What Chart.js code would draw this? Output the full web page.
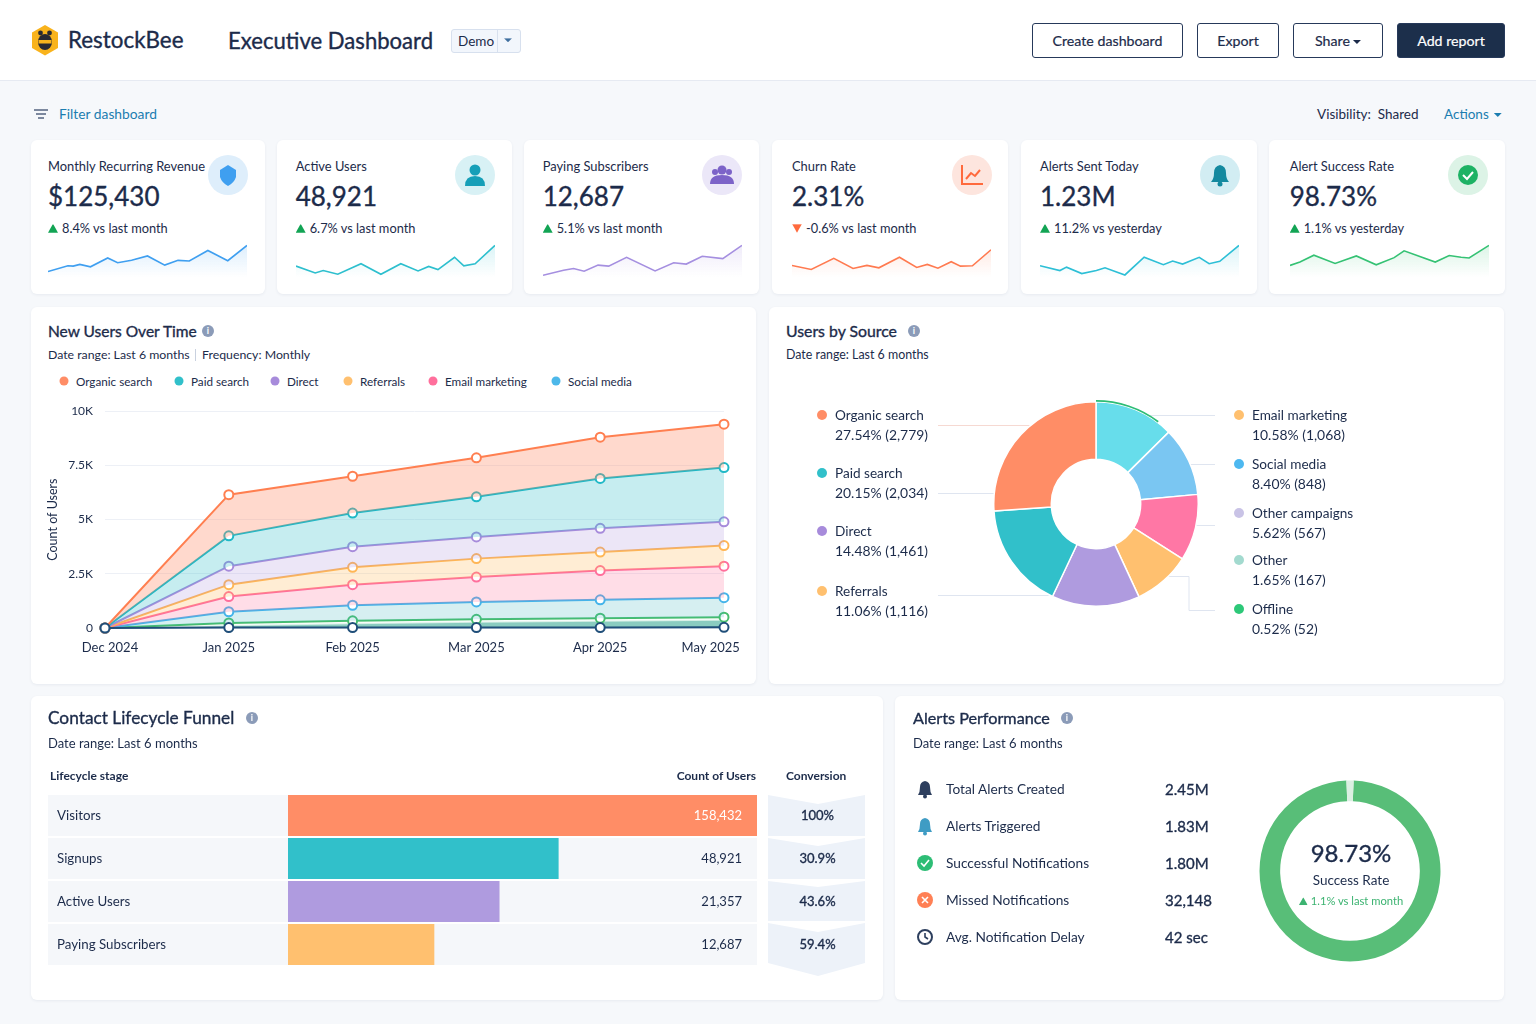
<!DOCTYPE html>
<html>
<head>
<meta charset="utf-8">
<title>Executive Dashboard</title>
<script src="https://cdn.jsdelivr.net/npm/chart.js@4"></script>
<style>
    html, body { margin: 0; padding: 0; }
    body { position: relative; width: 1536px; height: 1024px; overflow: hidden; background: #f6f8fb; font-family: Lato, "Noto Sans", sans-serif; color: #1c2b4a; }
    .t { position: absolute; white-space: nowrap; transform: translateY(-50%); line-height: 1.2; }
    .r { transform: translate(-100%, -50%); }
    .c { transform: translate(-50%, -50%); }
    .m { -webkit-text-stroke: 0.35px currentColor; }
    .box { position: absolute; background: #fff; border-radius: 6px; box-shadow: 0 1px 3px rgba(40, 60, 100, 0.07); }
    .btn { position: absolute; box-sizing: border-box; top: 23px; height: 35px; border: 1px solid #26395a; border-radius: 3px; background: #fff; font-size: 14.2px; -webkit-text-stroke: 0.2px currentColor; line-height: 33px; text-align: center; }
    canvas { position: absolute; display: block; }
    svg { position: absolute; overflow: visible; }
    .info { position: absolute; width: 12px; height: 12px; border-radius: 50%; background: #8b9bb8; color: #fff; font-size: 9px; font-weight: 700; line-height: 12px; text-align: center; transform: translateY(-50%); }
    .dot { position: absolute; border-radius: 50%; transform: translate(-50%, -50%); }
    .up, .down, .caret { display: inline-block; }
    .up { width: 10px; height: 9px; clip-path: polygon(50% 0, 100% 100%, 0 100%); background: #12a454; margin-right: 4px; }
    .down { width: 10px; height: 9px; clip-path: polygon(0 0, 100% 0, 50% 100%); background: #ff6a3d; margin-right: 4px; }
    .caret { width: 8px; height: 4px; clip-path: polygon(0 0, 100% 0, 50% 100%); background: currentColor; vertical-align: 2px; margin-left: 3px; }
</style>
</head>
<body>
<div style="position:absolute;left:0;top:0;width:1536px;height:80px;background:#fff;border-bottom:1px solid #e6eaf2"></div>
<svg style="left:31px;top:25px" width="28" height="31" viewBox="0 0 28 31">
    <polygon points="14,0 27,7.5 27,23 14,30.5 1,23 1,7.5" fill="#f9b31c"/>
    <circle cx="9.5" cy="8" r="2.4" fill="#2a2a33"/><circle cx="18.5" cy="8" r="2.4" fill="#2a2a33"/>
    <ellipse cx="14" cy="17" rx="7" ry="8" fill="#2a2a33"/>
    <rect x="7.5" y="15" width="13" height="3.5" fill="#f9b31c"/>
</svg>
<div class="t m" style="left:68px;top:40px;font-size:22.4px">RestockBee</div>
<div class="t m" style="left:228px;top:41px;font-size:22.1px">Executive Dashboard</div>
<div style="position:absolute;box-sizing:border-box;left:451px;top:29px;width:70px;height:24px;background:#f2f6fc;border:1px solid #d7e0ee;border-radius:3px"></div>
<div style="position:absolute;left:497px;top:29px;width:1px;height:24px;background:#d7e0ee"></div>
<div class="t" style="left:458px;top:41px;font-size:13.5px">Demo</div>
<div class="t c" style="left:508px;top:40px;font-size:8px;color:#3f6f9f"><span class="caret" style="margin:0;vertical-align:middle"></span></div>

<div class="btn" style="left:1032px;width:151px">Create dashboard</div>
<div class="btn" style="left:1197px;width:82px">Export</div>
<div class="btn" style="left:1293px;width:90px">Share<span class="caret"></span></div>
<div class="btn" style="left:1397px;width:108px;background:#1c2f4b;color:#fff">Add report</div>

<svg style="left:34px;top:108px" width="14" height="13" viewBox="0 0 14 13" stroke="#4a5a78" stroke-width="1.4">
    <line x1="0" y1="2" x2="14" y2="2"/><line x1="2" y1="6" x2="12" y2="6"/><line x1="4" y1="10" x2="10" y2="10"/>
</svg>
<div class="t" style="left:59px;top:114px;font-size:13.8px;color:#1b7db0">Filter dashboard</div>
<div class="t" style="left:1317px;top:114px;font-size:13.5px">Visibility:&nbsp; Shared</div>
<div class="t" style="left:1444px;top:114px;font-size:13.5px;color:#1b7db0">Actions<span class="caret" style="margin-left:5px"></span></div>

<div id="cards"></div>

<div class="box" style="left:31px;top:307px;width:725px;height:377px"></div>
<div class="box" style="left:769px;top:307px;width:735px;height:377px"></div>
<div class="box" style="left:31px;top:696px;width:852px;height:304px"></div>
<div class="box" style="left:895px;top:696px;width:609px;height:304px"></div>

<div class="t m" style="left:48px;top:331px;font-size:15.5px">New Users Over Time</div>
<div class="info" style="left:202px;top:331px">i</div>
<div class="t" style="left:48px;top:355px;font-size:12.3px">Date range: Last 6 months</div>
<div style="position:absolute;left:195px;top:349px;width:1px;height:12px;background:#c9d1df"></div>
<div class="t" style="left:202px;top:355px;font-size:12.3px">Frequency: Monthly</div>
<div id="trendLegend"></div>
<canvas id="trendChart" width="743" height="273" style="left:31px;top:392px;width:743px;height:273px"></canvas>

<div class="t m" style="left:786px;top:331px;font-size:15.8px">Users by Source</div>
<div class="info" style="left:908px;top:331px">i</div>
<div class="t" style="left:786px;top:355px;font-size:12.4px">Date range: Last 6 months</div>
<svg style="left:0;top:0" width="1536" height="1024" fill="none" stroke="#dfe5f0" stroke-width="1">
    <path d="M938 425.5H1031" stroke="#f6d9d2"/>
    <path d="M938 493.5H996"/>
    <path d="M938 595.5H1052"/>
    <path d="M1150 415.5H1215"/>
    <path d="M1188 464.5H1215"/>
    <path d="M1195 525.5H1215"/>
    <path d="M1165 576.5H1189V610.5H1215"/>
</svg>
<div id="sourceLegend"></div>
<canvas id="sourceChart" width="208" height="208" style="left:991.7px;top:400px;width:208px;height:208px"></canvas>

<div class="t m" style="left:48px;top:718px;font-size:17.3px">Contact Lifecycle Funnel</div>
<div class="info" style="left:246px;top:718px">i</div>
<div class="t" style="left:48px;top:743.5px;font-size:13px">Date range: Last 6 months</div>
<div class="t" style="left:50px;top:775.5px;font-size:12px;font-weight:700">Lifecycle stage</div>
<div class="t r" style="left:756px;top:775.5px;font-size:12px;font-weight:700">Count of Users</div>
<div class="t" style="left:786px;top:775.5px;font-size:12px;font-weight:700">Conversion</div>
<div id="funnelRows"></div>
<canvas id="funnelChart" width="469" height="172" style="left:288px;top:794px;width:469px;height:172px"></canvas>
<div id="funnelText"></div>

<div class="t m" style="left:913px;top:718px;font-size:16.2px">Alerts Performance</div>
<div class="info" style="left:1061px;top:718px">i</div>
<div class="t" style="left:913px;top:743.5px;font-size:13px">Date range: Last 6 months</div>
<div id="alertRows"></div>
<canvas id="gaugeChart" width="184" height="184" style="left:1258px;top:779px;width:184px;height:184px"></canvas>
<div class="t c m" style="left:1351px;top:853px;font-size:24px">98.73%</div>
<div class="t c" style="left:1351px;top:880px;font-size:13.5px">Success Rate</div>
<div class="t c" style="left:1351px;top:901px;font-size:11.2px;color:#3cb371"><span class="up" style="width:9px;height:8px;background:#3cb371;margin-right:3px"></span>1.1% vs last month</div>

<script>
// top row cards
const cardTitles = ['Monthly Recurring Revenue', 'Active Users', 'Paying Subscribers', 'Churn Rate', 'Alerts Sent Today', 'Alert Success Rate'];
const cardValues = ['$125,430', '48,921', '12,687', '2.31%', '1.23M', '98.73%'];
const cardChanges = ['8.4% vs last month', '6.7% vs last month', '5.1% vs last month', '-0.6% vs last month', '11.2% vs yesterday', '1.1% vs yesterday'];
const cardColors = ['#3f9ff0', '#2dbfce', '#a58fe0', '#ff7a50', '#2dbfd6', '#35c274'];

// sparkline samples, x is the day of the period and y a relative level
const sparkRevenueDays = [0, 3, 3.8, 4.8, 6.4, 9, 10.5, 12.6, 15, 17.6, 19.6, 21.3, 24.1, 27.1, 30];
const sparkRevenue = [16, 33, 32, 37, 30, 56, 42, 49, 62, 35, 49, 47, 78, 48, 93];
const sparkUsersDays = [0, 2.9, 4.1, 6.3, 9.8, 12.8, 15.8, 18.4, 20, 21.4, 23.9, 25.3, 27, 30];
const sparkUsers = [32, 12, 19, 8, 39, 8, 39, 18, 31, 22, 58, 33, 39, 93];
const sparkPayingDays = [0, 3.1, 4.6, 6.2, 8.3, 9.9, 12.6, 16.9, 19.7, 21.6, 24, 27.1, 30];
const sparkPaying = [5, 20, 25, 17, 35, 32, 58, 18, 42, 38, 61, 54, 93];
const sparkChurnDays = [0, 2.9, 6.3, 9.2, 11.3, 13.1, 16.2, 18.8, 20.4, 22, 24, 25.4, 27.2, 30];
const sparkChurn = [34, 22, 55, 25, 34, 27, 58, 28, 37, 26, 45, 32, 33, 80];
const sparkAlertsDays = [0, 3, 4, 6.3, 8.5, 9.8, 12.8, 15.7, 18.6, 20, 21.5, 24, 25.5, 27.1, 30];
const sparkAlerts = [33, 19, 29, 10, 19, 27, 6, 58, 36, 47, 38, 58, 39, 46, 93];
const sparkSuccessDays = [0, 1.5, 3.6, 6.8, 10, 13, 15.7, 17.2, 21.9, 24, 25.8, 27, 30];
const sparkSuccess = [34, 44, 64, 40, 62, 36, 57, 77, 44, 63, 58, 56, 93];

// new users over time
const trendMonths = ['Dec 2024', 'Jan 2025', 'Feb 2025', 'Mar 2025', 'Apr 2025', 'May 2025'];
const trendTickLabels = ['0', '2.5K', '5K', '7.5K', '10K'];
const trendOrganic = [0, 6150, 7000, 7850, 8800, 9400];
const trendPaid = [0, 4250, 5300, 6050, 6900, 7400];
const trendDirect = [0, 2850, 3750, 4200, 4600, 4900];
const trendReferrals = [0, 2000, 2800, 3200, 3500, 3800];
const trendEmail = [0, 1450, 2000, 2350, 2650, 2850];
const trendSocial = [0, 750, 1050, 1200, 1300, 1400];
const trendOffline = [0, 230, 330, 400, 450, 500];
const trendOther = [0, 130, 220, 290, 340, 380];
const trendBase = [0, 20, 20, 20, 20, 30];
const trendLegendNames = ['Organic search', 'Paid search', 'Direct', 'Referrals', 'Email marketing', 'Social media'];

// users by source, slice shares are read from the drawn ring
const sliceNames = ['Other campaigns', 'Social media', 'Email marketing', 'Referrals', 'Direct', 'Paid search', 'Organic search'];
const sliceShares = [12.6, 10.9, 10.5, 9.1, 13.9, 16.9, 26.1];
const sliceColors = ['#67ddeb', '#7ac6f2', '#ff77a5', '#ffc06f', '#af9bdf', '#31c0ca', '#ff8d66'];
const offlineArc = [10.3, 89.7];
const sourceLeftNames = ['Organic search', 'Paid search', 'Direct', 'Referrals'];
const sourceLeftValues = ['27.54% (2,779)', '20.15% (2,034)', '14.48% (1,461)', '11.06% (1,116)'];
const sourceRightNames = ['Email marketing', 'Social media', 'Other campaigns', 'Other', 'Offline'];
const sourceRightValues = ['10.58% (1,068)', '8.40% (848)', '5.62% (567)', '1.65% (167)', '0.52% (52)'];

const funnelStages = ['Visitors', 'Signups', 'Active Users', 'Paying Subscribers'];
const funnelCounts = ['158,432', '48,921', '21,357', '12,687'];
const funnelBarLengths = [100, 57.7, 45.1, 31.2];
const funnelConversion = ['100%', '30.9%', '43.6%', '59.4%'];
const funnelColors = ['#ff8d66', '#31c0ca', '#af9bdf', '#ffc06f'];

// alerts
const alertNames = ['Total Alerts Created', 'Alerts Triggered', 'Successful Notifications', 'Missed Notifications', 'Avg. Notification Delay'];
const alertValues = ['2.45M', '1.83M', '1.80M', '32,148', '42 sec'];
const gaugeValues = [98.73, 1.27];

const sparkSets = [
    [sparkRevenueDays, sparkRevenue], [sparkUsersDays, sparkUsers], [sparkPayingDays, sparkPaying],
    [sparkChurnDays, sparkChurn], [sparkAlertsDays, sparkAlerts], [sparkSuccessDays, sparkSuccess]
];

function buildCards() {
    const boxX = [31, 277, 524, 772, 1021, 1269];
    const boxW = [234, 235, 235, 236, 236, 236];
    const sparkX = [48, 295.7, 542.7, 792, 1040, 1289.7];
    const iconX = [228, 475, 722, 972, 1220, 1468];
    const iconBg = ['#deeefb', '#d8f1f5', '#ebe7f8', '#fde5de', '#d2edf3', '#dcf3e6'];
    const icons = [
        '<path d="M0 -10 L8 -5 V2 Q6 8 0 11 Q-6 8 -8 2 V-5 Z" fill="#3f9ff0"/>',
        '<circle cy="-5" r="5.5" fill="#169fb8"/><path d="M-10 11 Q-10 1 0 1 Q10 1 10 11 Z" fill="#169fb8"/>',
        '<circle cy="-5" r="4.5" fill="#7c63c8"/><circle cx="-7" cy="-3" r="3" fill="#7c63c8"/><circle cx="7" cy="-3" r="3" fill="#7c63c8"/><path d="M-12 9 Q-12 0 0 0 Q12 0 12 9 Z" fill="#7c63c8"/>',
        '<path d="M-10 -10 V9 H11 M-6 4 L-1 -2 L3 1 L8 -5" fill="none" stroke="#ff6a3d" stroke-width="2"/>',
        '<path d="M-9 7 Q-6 4 -6 -2 Q-6 -9 0 -10 Q6 -9 6 -2 Q6 4 9 7 Z" fill="#14899f"/><circle cy="9" r="2.5" fill="#14899f"/>',
        '<circle r="10" fill="#1db264"/><path d="M-5 0 L-1 4 L5 -3" fill="none" stroke="#fff" stroke-width="2"/>'
    ];
    let html = '';
    cardTitles.forEach((title, i) => {
        const x = sparkX[i];
        const down = cardChanges[i].startsWith('-');
        html += `
            <div class="box" style="left:${boxX[i]}px;top:140px;width:${boxW[i]}px;height:154px"></div>
            <div class="t" style="left:${x}px;top:166.5px;font-size:12.9px">${title}</div>
            <div class="t m" style="left:${x}px;top:197px;font-size:26px">${cardValues[i]}</div>
            <div class="t" style="left:${x}px;top:228.5px;font-size:12.8px"><span class="${down ? 'down' : 'up'}"></span>${cardChanges[i]}</div>
            <svg style="left:${iconX[i]}px;top:175px" width="1" height="1"><circle r="20" fill="${iconBg[i]}"/>${icons[i]}</svg>
            <canvas id="spark${i}" width="203" height="34" style="left:${x - 2}px;top:243px;width:203px;height:34px"></canvas>`;
    });
    document.getElementById('cards').innerHTML = html;
}

function drawSparkline(i) {
    const color = cardColors[i];
    const [days, levels] = sparkSets[i];
    new Chart('spark' + i, {
        type: 'line',
        data: {
            datasets: [{
                data: days.map((d, n) => ({ x: d, y: levels[n] })),
                borderColor: color,
                borderWidth: 1.6,
                pointRadius: 0,
                tension: 0,
                fill: 'start',
                backgroundColor: (ctx) => {
                    const area = ctx.chart.chartArea;
                    if (!area) return 'transparent';
                    const g = ctx.chart.ctx.createLinearGradient(0, area.top, 0, area.bottom);
                    g.addColorStop(0, color + '30');
                    g.addColorStop(1, color + '00');
                    return g;
                }
            }]
        },
        options: {
            responsive: false,
            animation: false,
            layout: { padding: { left: 2, right: 2 } },
            plugins: { legend: { display: false }, tooltip: { enabled: false } },
            scales: {
                x: { type: 'linear', display: false, min: 0, max: 30 },
                y: { display: false, min: 0, max: 100 }
            }
        }
    });
}

function drawTrend() {
    const series = [
        [trendOrganic, '#ff7f50', 'rgba(255,138,101,0.32)'],
        [trendPaid, '#1fb8c6', 'rgba(49,192,202,0.28)'],
        [trendDirect, '#a78bdb', 'rgba(167,139,219,0.22)'],
        [trendReferrals, '#ffb655', 'rgba(255,182,85,0.25)'],
        [trendEmail, '#ff6f9c', 'rgba(255,111,156,0.24)'],
        [trendSocial, '#44b4ea', 'rgba(68,180,190,0.22)'],
        [trendOffline, '#46bd6c', 'rgba(255,255,255,0.8)'],
        [trendOther, '#d7efe6', 'rgba(60,170,150,0.6)'],
        [trendBase, '#1f4e79', 'rgba(0,0,0,0)']
    ];
    new Chart('trendChart', {
        type: 'line',
        data: {
            labels: trendMonths,
            datasets: series.map(([values, line, area], i) => ({
                data: values,
                borderColor: line,
                backgroundColor: area,
                borderWidth: 2,
                pointRadius: i === 7 ? 0 : 4.5,
                pointBackgroundColor: '#fff',
                pointBorderColor: line,
                pointBorderWidth: 2,
                tension: 0,
                clip: false,
                fill: i < series.length - 1 ? '+1' : false,
                order: i === series.length - 1 ? -1 : i
            }))
        },
        options: {
            responsive: false,
            animation: false,
            layout: { padding: { left: 14, right: 50, top: 3 } },
            plugins: { legend: { display: false }, tooltip: { enabled: false } },
            scales: {
                x: {
                    grid: { display: false },
                    border: { display: false },
                    afterFit: (scale) => { scale.height = 37; },
                    ticks: {
                        padding: 4,
                        maxRotation: 0,
                        autoSkip: false,
                        color: '#1c2b4a',
                        font: { family: 'Lato', size: 13 },
                        // first and last month labels sit slightly inward in the original
                        callback: (v, i) => i === 0 ? '   ' + trendMonths[i] : i === trendMonths.length - 1 ? trendMonths[i] + '        ' : trendMonths[i]
                    }
                },
                y: {
                    min: 0,
                    max: 10000,
                    afterFit: (scale) => { scale.width = 60; },
                    grid: { color: '#edf0f6', drawTicks: false },
                    border: { display: false },
                    ticks: {
                        stepSize: 2500,
                        padding: 12,
                        color: '#1c2b4a',
                        font: { family: 'Lato', size: 12 },
                        callback: (v) => trendTickLabels[v / 2500]
                    },
                    title: { display: true, text: 'Count of Users', color: '#1c2b4a', padding: 0, font: { family: 'Lato', size: 12.5 } }
                }
            }
        }
    });
}

function buildTrendLegend() {
    const dotX = [64, 179, 275, 348, 433, 556];
    const colors = ['#ff8d66', '#31c0ca', '#a78bdb', '#ffc06f', '#ff6f9c', '#4db8ea'];
    document.getElementById('trendLegend').innerHTML = trendLegendNames.map((name, i) => `
        <div class="dot" style="left:${dotX[i]}px;top:381px;width:9px;height:9px;background:${colors[i]}"></div>
        <div class="t" style="left:${dotX[i] + 12}px;top:380.5px;font-size:11.7px">${name}</div>`).join('');
}

function drawSource() {
    new Chart('sourceChart', {
        type: 'doughnut',
        data: {
            labels: sliceNames,
            datasets: [
                { data: offlineArc, backgroundColor: ['#2dbd75', 'rgba(0,0,0,0)'], borderWidth: 0, weight: 0.03 },
                { data: sliceShares, backgroundColor: sliceColors, borderColor: '#fff', borderWidth: 1.5 }
            ]
        },
        options: {
            responsive: false,
            animation: false,
            cutout: 44.7,
            plugins: { legend: { display: false }, tooltip: { enabled: false } }
        }
    });
}

function buildSourceLegend() {
    const leftY = [415, 473, 531, 591];
    const leftColors = ['#ff8d66', '#31c0ca', '#a78bdb', '#ffc06f'];
    const rightY = [415, 464, 513, 560, 609];
    const rightColors = ['#ffc06f', '#4db8f0', '#c9c3e6', '#a3dacf', '#2dc878'];
    let html = '';
    const row = (x, y, color, name, value) => `
        <div class="dot" style="left:${x}px;top:${y}px;width:10px;height:10px;background:${color}"></div>
        <div class="t" style="left:${x + 13}px;top:${y}px;font-size:13.6px">${name}</div>
        <div class="t" style="left:${x + 13}px;top:${y + 19.5}px;font-size:13.9px">${value}</div>`;
    sourceLeftNames.forEach((name, i) => { html += row(822, leftY[i], leftColors[i], name, sourceLeftValues[i]); });
    sourceRightNames.forEach((name, i) => { html += row(1239, rightY[i], rightColors[i], name, sourceRightValues[i]); });
    document.getElementById('sourceLegend').innerHTML = html;
}

function buildFunnel() {
    const chevrons = [
        '768,795 818,804 865,795 865,836 768,836',
        '768,838 818,846 865,838 865,879 768,879',
        '768,881 818,887 865,881 865,921 768,921',
        '768,923 818,932 865,923 865,963 818,976 768,963'
    ];
    let rows = '<svg style="left:0;top:0" width="1" height="1">' + chevrons.map((p) => `<polygon points="${p}" fill="#edf2f9"/>`).join('') + '</svg>';
    let text = '';
    funnelStages.forEach((stage, i) => {
        const y = 815.5 + i * 43;
        rows += `<div style="position:absolute;left:48px;top:${795 + i * 43}px;width:709px;height:41px;background:#f5f7fa"></div>`;
        text += `
            <div class="t" style="left:57px;top:${y}px;font-size:13.3px">${stage}</div>
            <div class="t r" style="left:742px;top:${y}px;font-size:13px;${i === 0 ? 'color:#fff' : ''}">${funnelCounts[i]}</div>
            <div class="t c m" style="left:817.5px;top:${y}px;font-size:13px">${funnelConversion[i]}</div>`;
    });
    document.getElementById('funnelRows').innerHTML = rows;
    document.getElementById('funnelText').innerHTML = text;
}

function drawFunnel() {
    new Chart('funnelChart', {
        type: 'bar',
        data: {
            labels: funnelStages,
            datasets: [{ data: funnelBarLengths, backgroundColor: funnelColors, barPercentage: 41 / 43, categoryPercentage: 1 }]
        },
        options: {
            indexAxis: 'y',
            responsive: false,
            animation: false,
            plugins: { legend: { display: false }, tooltip: { enabled: false } },
            scales: {
                x: { display: false, min: 0, max: 100 },
                y: { display: false }
            }
        }
    });
}

function buildAlerts() {
    const icons = [
        '<path d="M-7 6 Q-5 3 -5 -2 Q-5 -7 0 -8 Q5 -7 5 -2 Q5 3 7 6 Z" fill="#2d3f5e"/><circle cy="7.5" r="2" fill="#2d3f5e"/>',
        '<path d="M-7 6 Q-5 3 -5 -2 Q-5 -7 0 -8 Q5 -7 5 -2 Q5 3 7 6 Z" fill="#3f9cc4"/><circle cy="7.5" r="2" fill="#3f9cc4"/>',
        '<circle r="8" fill="#2dbd75"/><path d="M-4 0 L-1 3 L4 -3" fill="none" stroke="#fff" stroke-width="1.6"/>',
        '<circle r="8" fill="#ff8055"/><path d="M-3 -3 L3 3 M3 -3 L-3 3" stroke="#fff" stroke-width="1.6"/>',
        '<circle r="7" fill="none" stroke="#2d3f5e" stroke-width="2"/><path d="M0 -4 V0 L3 2" fill="none" stroke="#2d3f5e" stroke-width="1.6"/>'
    ];
    document.getElementById('alertRows').innerHTML = alertNames.map((name, i) => {
        const y = 789 + i * 37;
        return `
            <svg style="left:925px;top:${y}px" width="1" height="1">${icons[i]}</svg>
            <div class="t" style="left:946px;top:${y}px;font-size:13.7px">${name}</div>
            <div class="t m" style="left:1165px;top:${y}px;font-size:15px">${alertValues[i]}</div>`;
    }).join('');
}

function drawGauge() {
    new Chart('gaugeChart', {
        type: 'doughnut',
        data: {
            labels: ['Delivered', 'Missed'],
            datasets: [{ data: gaugeValues, backgroundColor: ['#58be78', '#dcefe2'], borderWidth: 0 }]
        },
        options: {
            responsive: false,
            animation: false,
            rotation: 2.3,
            cutout: 71,
            radius: 90.5,
            plugins: { legend: { display: false }, tooltip: { enabled: false } }
        }
    });
}

buildCards();
sparkSets.forEach((set, i) => drawSparkline(i));
buildTrendLegend();
drawTrend();
buildSourceLegend();
drawSource();
buildFunnel();
drawFunnel();
buildAlerts();
drawGauge();
</script>
</body>
</html>
